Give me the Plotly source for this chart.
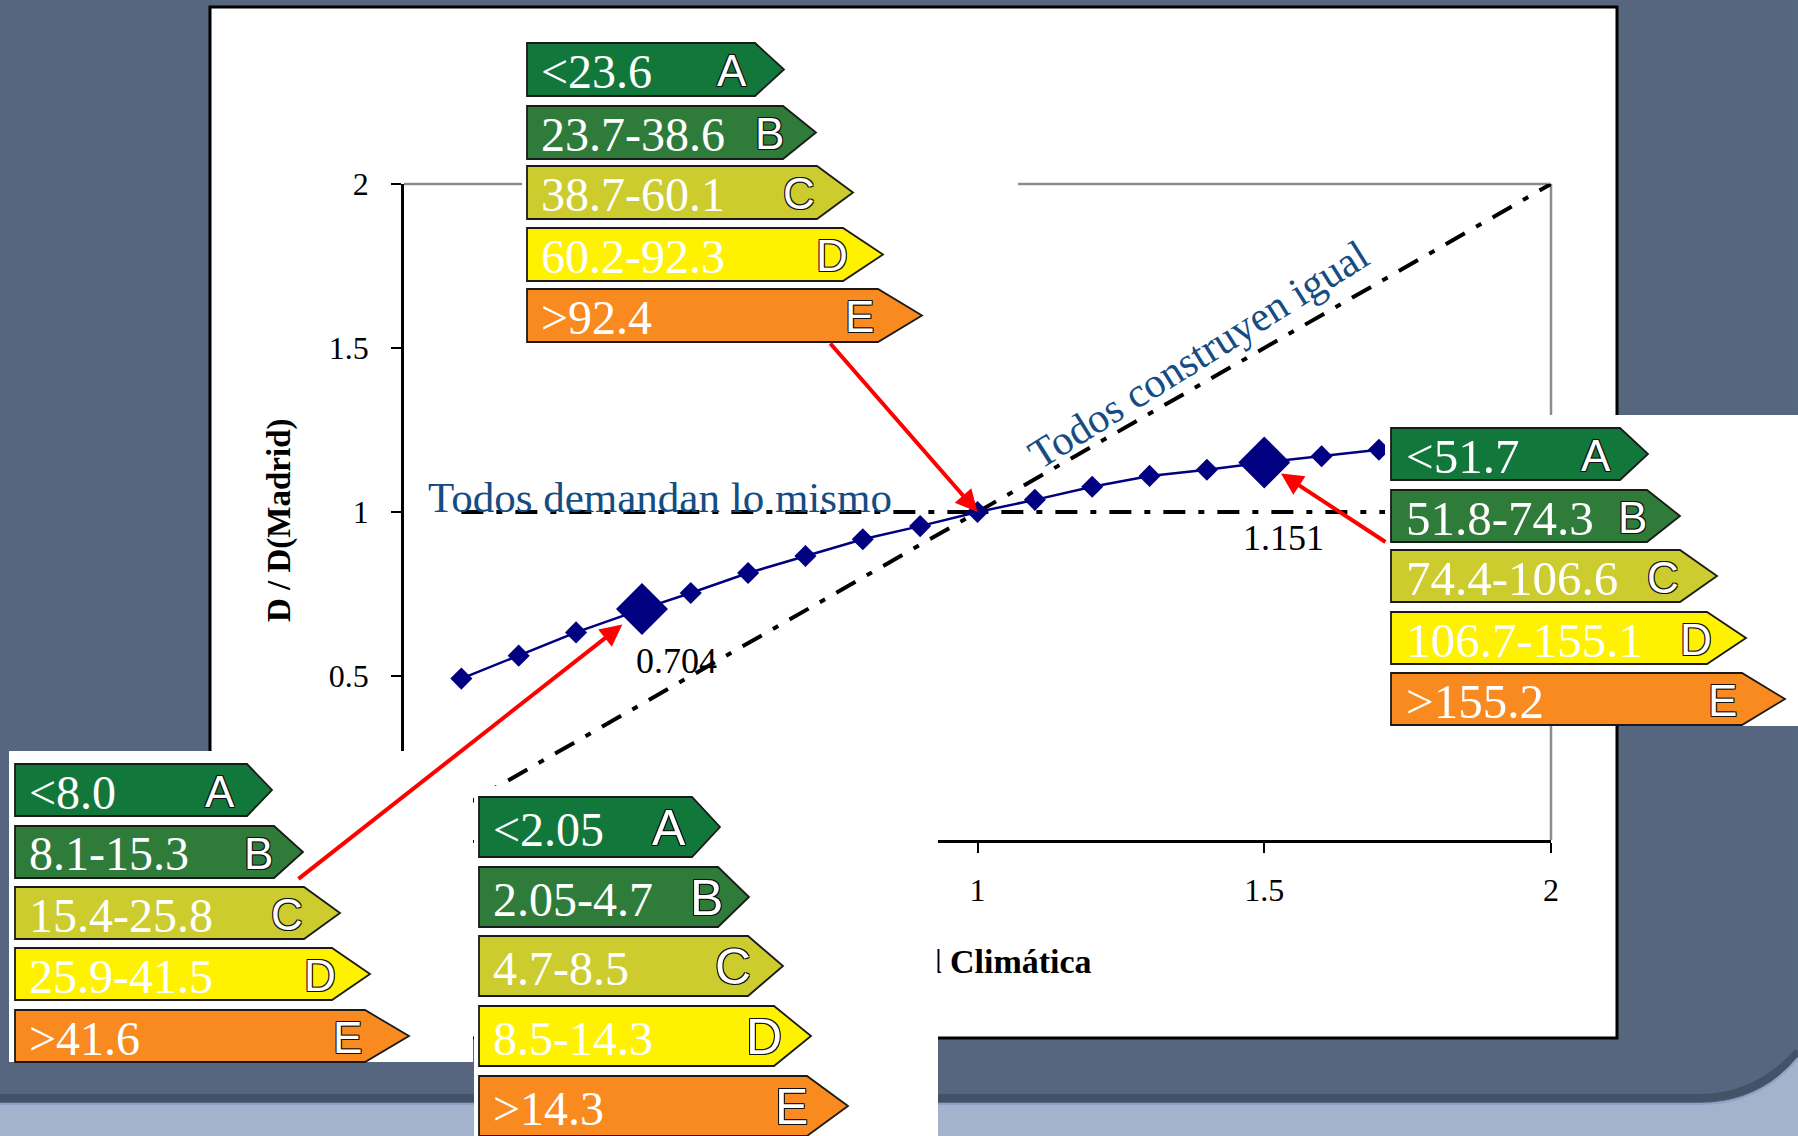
import plotly.graph_objects as go

# ---------------- data ----------------
severidad = [0.1, 0.2, 0.3, 0.415, 0.5, 0.6, 0.7, 0.8, 0.9, 1.0,
             1.1, 1.2, 1.3, 1.4, 1.5, 1.6, 1.7]
demanda_rel = [0.492, 0.562, 0.633, 0.704, 0.753, 0.814, 0.866, 0.917, 0.957, 1.0,
               1.037, 1.077, 1.110, 1.129, 1.151, 1.170, 1.190]
destacados_x = [0.415, 1.5]
destacados_y = [0.704, 1.151]

ref_x = [0.1, 2.0]
mismo_y = [1.0, 1.0]      # "Todos demandan lo mismo"
igual_y = [0.1, 2.0]      # "Todos construyen igual"  (y = x)

tick_vals = [0, 0.5, 1, 1.5, 2]
tick_text = ["0", "0.5", "1", "1.5", "2"]

clases = ["A", "B", "C", "D", "E"]
escala_madrid = ["<23.6", "23.7-38.6", "38.7-60.1", "60.2-92.3", ">92.4"]
escala_alta = ["<51.7", "51.8-74.3", "74.4-106.6", "106.7-155.1", ">155.2"]
escala_baja = ["<8.0", "8.1-15.3", "15.4-25.8", "25.9-41.5", ">41.6"]
escala_minima = ["<2.05", "2.05-4.7", "4.7-8.5", "8.5-14.3", ">14.3"]
colores_clase = ["#12773b", "#2f7b3a", "#cccc2e", "#fff200", "#f88a20"]

# ---------------- page geometry (pixels) ----------------
W, H = 1798, 1136
L, R, T, B = 404, 1551, 184, 840          # plotting area


def px(x):
    return (x - L) / (R - L)


def py(y):
    return (B - y) / (B - T)


def P(x, y):
    return f"{px(x):.5f},{py(y):.5f}"


def data_px(x):
    return L + x * (R - L) / 2.0


def data_py(y):
    return B - y * (B - T) / 2.0


SERIF = "Liberation Serif"
SANS = "Liberation Sans"
NAVY = "#000080"
AZUL_TEXTO = "#154c82"
DARK_BG = "#56667f"
LIGHT_BG = "#a3b3cb"

shapes = []
annotations = []

# slide background: dark frame with rounded lower-right corner
shapes.append(dict(type="path", xref="paper", yref="paper", layer="below",
                   path=f"M{P(0,0)} L{P(W,0)} L{P(W,1057)} Q{P(1760,1103)} {P(1700,1103)} L{P(0,1103)} Z",
                   fillcolor=DARK_BG, line=dict(width=0)))
shapes.append(dict(type="path", xref="paper", yref="paper", layer="below",
                   path=f"M{P(0,1098)} L{P(1700,1098)} Q{P(1757,1098)} {P(1798,1052)}",
                   line=dict(color="rgba(35,45,65,0.35)", width=8)))
shapes.append(dict(type="path", xref="paper", yref="paper", layer="below",
                   path=f"M{P(0,1104)} L{P(1700,1104)} Q{P(1760,1104)} {P(1798,1058)}",
                   line=dict(color="#8ea2c6", width=2)))

# white chart panel
shapes.append(dict(type="rect", xref="paper", yref="paper", layer="below",
                   x0=px(210), x1=px(1617), y0=py(1038), y1=py(7),
                   fillcolor="white", line=dict(color="black", width=3)))
# grey top / right plot-area border
shapes.append(dict(type="line", xref="paper", yref="paper", layer="below",
                   x0=0, x1=1, y0=1, y1=1, line=dict(color="#8c8c8c", width=2.5)))
shapes.append(dict(type="line", xref="paper", yref="paper", layer="below",
                   x0=1, x1=1, y0=0, y1=1, line=dict(color="#8c8c8c", width=2.5)))

# energy-label panels
paneles = [
    dict(rangos=escala_madrid, left=527, tops=[43, 106, 166, 228, 289], h=53,
         rect=[755, 783, 817, 843, 878], tips=[784, 816, 853, 883, 922],
         letras=[732, 769, 799, 832, 859], tx=539, fs=48, fl=44,
         fondo=(522, 25, 1018, 352)),
    dict(rangos=escala_alta, left=1391, tops=[428, 490, 550, 612, 673], h=52,
         rect=[1620, 1647, 1680, 1707, 1742], tips=[1648, 1680, 1717, 1746, 1785],
         letras=[1596, 1632, 1663, 1696, 1722], tx=1404, fs=49, fl=44,
         fondo=(1385, 415, 1798, 726)),
    dict(rangos=escala_baja, left=15, tops=[764, 826, 887, 948, 1010], h=52,
         rect=[247, 274, 304, 332, 365], tips=[272, 303, 340, 370, 409],
         letras=[220, 258, 287, 320, 347], tx=27, fs=48, fl=44,
         fondo=(9, 751, 473, 1062)),
    dict(rangos=escala_minima, left=479, tops=[797, 867, 936, 1006, 1076], h=60,
         rect=[692, 718, 748, 774, 807], tips=[720, 749, 783, 811, 848],
         letras=[669, 706, 733, 764, 791], tx=491, fs=48, fl=50,
         fondo=(474, 786, 938, 1136)),
]

OUTLINE = "-1px -1px 0 #111, 1px -1px 0 #111, -1px 1px 0 #111, 1px 1px 0 #111"

label_annotations = []
for pan in paneles:
    fx0, fy0, fx1, fy1 = pan["fondo"]
    shapes.append(dict(type="rect", xref="paper", yref="paper", layer="above",
                       x0=px(fx0), x1=px(fx1), y0=py(fy1), y1=py(fy0),
                       fillcolor="white", line=dict(width=0)))
    for i, clase in enumerate(clases):
        top = pan["tops"][i]
        bot = top + pan["h"]
        mid = (top + bot) / 2.0
        left, rx, tip = pan["left"], pan["rect"][i], pan["tips"][i]
        shapes.append(dict(
            type="path", xref="paper", yref="paper", layer="above",
            path=f"M{P(left, top)} L{P(rx, top)} L{P(tip, mid)} L{P(rx, bot)} L{P(left, bot)} Z",
            fillcolor=colores_clase[i], line=dict(color="#1a1a1a", width=1.8)))
        label_annotations.append(dict(
            x=px(pan["tx"]), y=py(mid + 2), xref="paper", yref="paper",
            xanchor="left", yanchor="middle", showarrow=False,
            text=pan["rangos"][i], font=dict(family=SERIF, size=pan["fs"], color="white")))
        label_annotations.append(dict(
            x=px(pan["letras"][i]), y=py(mid + 1), xref="paper", yref="paper",
            xanchor="center", yanchor="middle", showarrow=False,
            text=clase, font=dict(family=SANS, size=pan["fl"], color="white", shadow=OUTLINE)))

# ---------------- traces ----------------
DASH = "22px,13px,6px,13px"
fig = go.Figure()
fig.add_trace(go.Scatter(x=ref_x, y=mismo_y, mode="lines",
                         line=dict(color="black", width=4, dash=DASH), hoverinfo="skip"))
fig.add_trace(go.Scatter(x=ref_x, y=igual_y, mode="lines",
                         line=dict(color="black", width=4, dash=DASH), hoverinfo="skip"))
fig.add_trace(go.Scatter(x=severidad, y=demanda_rel, mode="lines+markers",
                         line=dict(color=NAVY, width=2.5),
                         marker=dict(symbol="diamond", size=17, color=NAVY)))
fig.add_trace(go.Scatter(x=destacados_x, y=destacados_y, mode="markers",
                         marker=dict(symbol="diamond", size=40, color=NAVY)))

# ---------------- annotations ----------------
# axis titles
annotations.append(dict(x=px(279), y=py(521), xref="paper", yref="paper",
                        text="<b>D / D(Madrid)</b>", textangle=-90, showarrow=False,
                        xanchor="center", yanchor="middle",
                        font=dict(family=SERIF, size=33, color="black")))
annotations.append(dict(x=px(1094), y=py(961), xref="paper", yref="paper",
                        text="<b>Severidad Climática</b>", showarrow=False,
                        xanchor="right", yanchor="middle",
                        font=dict(family=SERIF, size=34, color="black")))
# white backing of the lower label panel over the axis title
annotations.append(dict(x=px(863), y=py(961), xref="paper", yref="paper",
                        text=" ", showarrow=False, width=148, height=50,
                        bgcolor="white", borderpad=0,
                        xanchor="center", yanchor="middle",
                        font=dict(family=SERIF, size=20, color="white")))

# reference line captions
annotations.append(dict(x=px(426), y=py(497), xref="paper", yref="paper",
                        text="Todos demandan lo mismo", showarrow=False,
                        xanchor="left", yanchor="middle",
                        font=dict(family=SERIF, size=43, color=AZUL_TEXTO)))
annotations.append(dict(x=px(1198), y=py(355), xref="paper", yref="paper",
                        text="Todos construyen igual", showarrow=False, textangle=-32,
                        xanchor="center", yanchor="middle",
                        font=dict(family=SERIF, size=42, color=AZUL_TEXTO)))

# value labels of highlighted points
label_shift = [(34, -52), (19, -76)]
for (xv, yv), (dx, dy) in zip(zip(destacados_x, destacados_y), label_shift):
    annotations.append(dict(x=xv, y=yv, xref="x", yref="y", text=f"{yv:.3f}",
                            showarrow=False, xshift=dx, yshift=dy,
                            xanchor="center", yanchor="middle",
                            font=dict(family=SERIF, size=36, color="black")))

annotations.extend(label_annotations)

# red arrows from each label panel to its point
flechas = [
    (1.0, 1.0, (829, 342), 0),
    (destacados_x[0], destacados_y[0], (297, 880), 25),
    (destacados_x[1], destacados_y[1], (1387, 543), 20),
]
for xv, yv, (tx, ty), so in flechas:
    annotations.append(dict(x=xv, y=yv, xref="x", yref="y", text="",
                            showarrow=True, axref="pixel", ayref="pixel",
                            ax=tx - data_px(xv), ay=ty - data_py(yv),
                            arrowhead=2, arrowsize=1.1, arrowwidth=4,
                            arrowcolor="#ff0000", standoff=so))

axis_common = dict(range=[0, 2], tickvals=tick_vals, ticktext=tick_text,
                   showgrid=False, zeroline=False, showline=True,
                   linecolor="black", linewidth=2.5, ticks="outside",
                   ticklen=10, tickwidth=2, tickcolor="black",
                   tickfont=dict(family=SERIF, size=32, color="black"),
                   fixedrange=True)

fig.update_layout(
    width=W, height=H, autosize=False,
    margin=dict(l=L, r=W - R, t=T, b=H - B, pad=0),
    paper_bgcolor=LIGHT_BG, plot_bgcolor="rgba(0,0,0,0)",
    showlegend=False,
    xaxis=dict(**axis_common, ticklabelstandoff=10),
    yaxis=dict(**axis_common, ticklabelstandoff=16),
    shapes=shapes, annotations=annotations,
)

fig.write_html("out.html")
